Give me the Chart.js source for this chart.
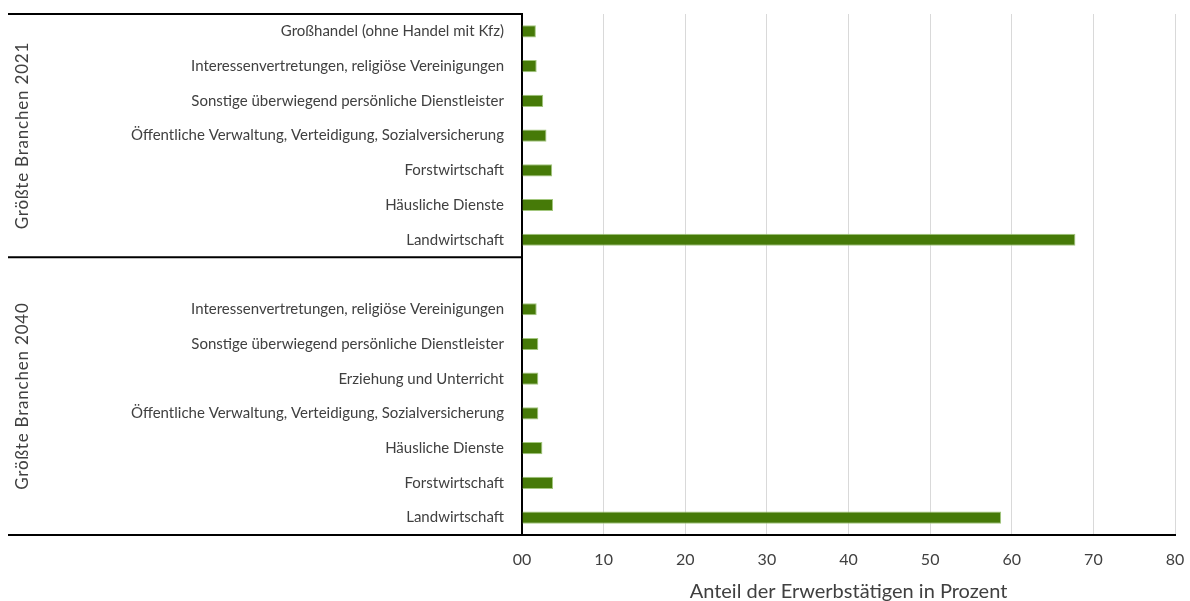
<!DOCTYPE html>
<html>
<head>
<meta charset="utf-8">
<script src="https://cdn.jsdelivr.net/npm/chart.js@4"></script>
<style>
  html, body { margin: 0; padding: 0; background: #fff; }
  #wrap { width: 1190px; height: 601px; }
</style>
</head>
<body>
<div id="wrap"><canvas id="myChart" width="1190" height="601"></canvas></div>
<script>
// categories top to bottom; '' is the empty slot between the two groups
let branchLabels = [
    'Großhandel (ohne Handel mit Kfz)',
    'Interessenvertretungen, religiöse Vereinigungen',
    'Sonstige überwiegend persönliche Dienstleister',
    'Öffentliche Verwaltung, Verteidigung, Sozialversicherung',
    'Forstwirtschaft',
    'Häusliche Dienste',
    'Landwirtschaft',
    '',
    'Interessenvertretungen, religiöse Vereinigungen',
    'Sonstige überwiegend persönliche Dienstleister',
    'Erziehung und Unterricht',
    'Öffentliche Verwaltung, Verteidigung, Sozialversicherung',
    'Häusliche Dienste',
    'Forstwirtschaft',
    'Landwirtschaft'
];
let shareValues = [1.7, 1.8, 2.6, 3.0, 3.7, 3.8, 67.8, null, 1.8, 2.0, 2.0, 2.0, 2.5, 3.8, 58.7];

let groupNames = ['Größte Branchen 2021', 'Größte Branchen 2040'];

let xTicks = [0, 10, 20, 30, 40, 50, 60, 70, 80];
let xTitle = 'Anteil der Erwerbstätigen in Prozent';

const textColor = '#404040';
const fontFamily = 'Lato, "Liberation Sans", sans-serif';

// draws group labels and the horizontal divider lines on the left
const groupPlugin = {
    id: 'groups',
    afterDraw(chart) {
        let c = chart.ctx;
        let y = chart.scales.y;
        let area = chart.chartArea;
        let step = y.getPixelForValue(1) - y.getPixelForValue(0);
        let bounds = [area.top, y.getPixelForValue(6) + step / 2, area.bottom];
        c.save();
        c.strokeStyle = '#000';
        c.lineWidth = 2;
        bounds.forEach(ly => {
            c.beginPath();
            c.moveTo(8, ly);
            c.lineTo(area.left, ly);
            c.stroke();
        });
        c.fillStyle = textColor;
        c.font = '17px ' + fontFamily;
        c.letterSpacing = '0.8px';
        c.textAlign = 'center';
        c.textBaseline = 'middle';
        for (let i = 0; i < groupNames.length; i++) {
            let mid = (bounds[i] + bounds[i + 1]) / 2;
            c.save();
            c.translate(23, mid);
            c.rotate(-Math.PI / 2);
            c.fillText(groupNames[i], 0, 0);
            c.restore();
        }
        c.restore();
    }
};

let ctx = document.getElementById('myChart').getContext('2d');
let myChart = new Chart(ctx, {
    type: 'bar',
    data: {
        labels: branchLabels,
        datasets: [{
            data: shareValues,
            backgroundColor: '#467A08',
            borderColor: '#A3C77E',
            borderWidth: 1,
            borderSkipped: 'start',
            barPercentage: 0.7,
            categoryPercentage: 0.5
        }]
    },
    options: {
        indexAxis: 'y',
        responsive: false,
        animation: false,
        layout: { padding: { top: 14, right: 15, bottom: 0, left: 0 } },
        plugins: {
            legend: { display: false },
            tooltip: { enabled: false }
        },
        scales: {
            x: {
                min: 0,
                max: 80,
                afterBuildTicks: (scale) => { scale.ticks = xTicks.map(v => ({ value: v })); },
                afterFit: (scale) => {
                    scale.height = 66;
                    scale.paddingLeft = 0;
                    scale.paddingRight = 0;
                },
                ticks: {
                    color: textColor,
                    font: { family: fontFamily, size: 16 },
                    padding: 15,
                    callback: (v) => v === 0 ? '00' : String(v)
                },
                grid: {
                    color: (c) => c.index === 0 ? 'rgba(0,0,0,0)' : '#D9D9D9',
                    lineWidth: 1,
                    drawTicks: false
                },
                border: { color: '#000', width: 2 },
                title: {
                    display: true,
                    text: xTitle,
                    color: textColor,
                    font: { family: fontFamily, size: 20 },
                    padding: { top: 0, bottom: -3 }
                }
            },
            y: {
                afterFit: (scale) => {
                    scale.width = 522;
                    scale.paddingTop = 0;
                    scale.paddingBottom = 0;
                },
                ticks: {
                    color: textColor,
                    font: { family: fontFamily, size: 15 },
                    padding: 18,
                    autoSkip: false
                },
                grid: { display: false, drawTicks: false },
                border: { color: '#000', width: 2 }
            }
        }
    },
    plugins: [groupPlugin]
});
</script>
</body>
</html>
